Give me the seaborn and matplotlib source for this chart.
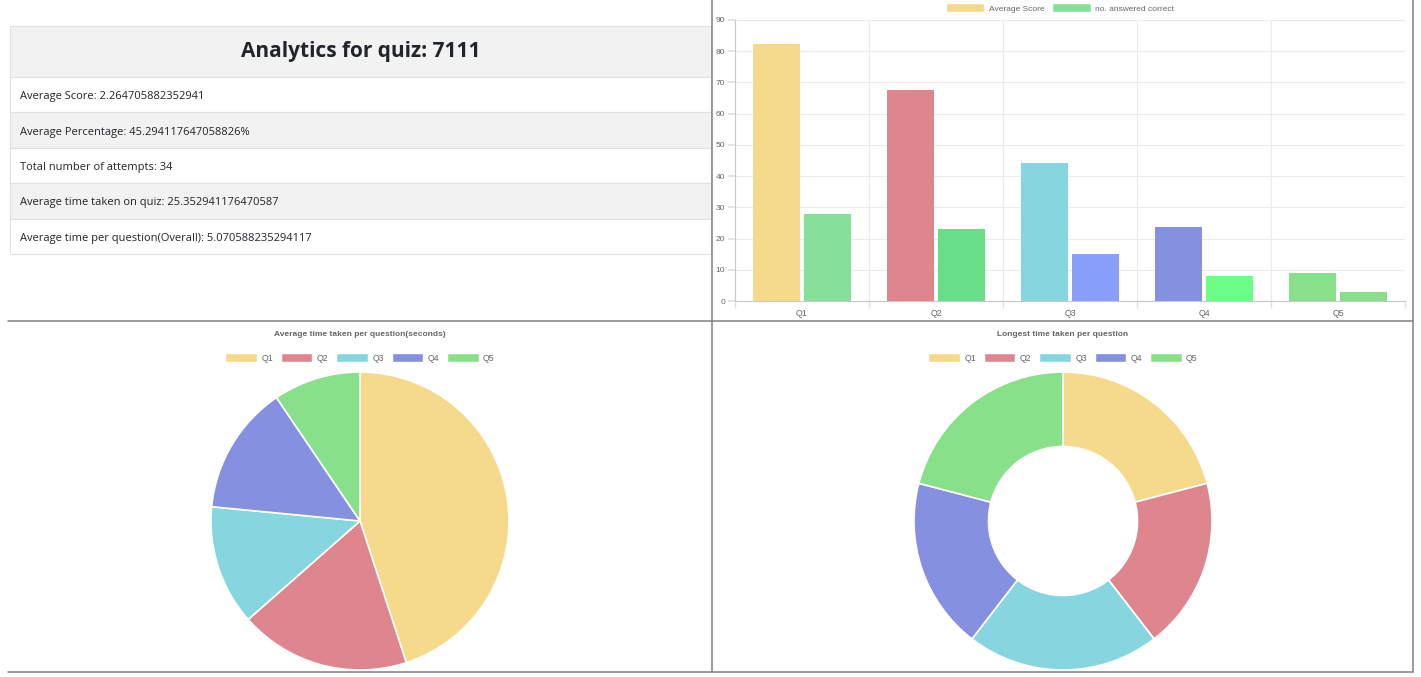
import matplotlib
matplotlib.use("Agg")
import matplotlib.pyplot as plt
from matplotlib.patches import Patch, Rectangle
import pandas as pd
import seaborn as sns

sns.set_theme(style="white")
plt.rcParams["font.family"] = ["Liberation Sans", "DejaVu Sans"]

W, H = 1421, 677

# data
quiz_title = "Analytics for quiz: 7111"
stat_rows = [
    "Average Score: 2.264705882352941",
    "Average Percentage: 45.294117647058826%",
    "Total number of attempts: 34",
    "Average time taken on quiz: 25.352941176470587",
    "Average time per question(Overall): 5.070588235294117",
]
questions = ["Q1", "Q2", "Q3", "Q4", "Q5"]
avg_score = [82.3, 67.6, 44.2, 23.7, 9.0]
answered_correct = [28, 23, 15, 8, 3]
avg_time = [11.4, 4.7, 3.3, 3.55, 2.4]
longest_time = [9, 8, 9, 8, 9]

avg_colors = ["#f6da8b", "#df858e", "#86d6e0", "#8690e0", "#88e08a"]
correct_colors = ["#86e09a", "#68de88", "#88a0fa", "#6cfe86", "#88de8c"]
pie_colors = ["#f6da8b", "#df858e", "#86d6e0", "#8690e0", "#88e08a"]


def px_axes(fig, x0, y0, x1, y1):
    return fig.add_axes([x0 / W, (H - y1) / H, (x1 - x0) / W, (y1 - y0) / H])


fig = plt.figure(figsize=(W / 100, H / 100), dpi=100)
fig.patch.set_facecolor("white")

# background layer: table and panel borders, in pixel coords
bg = fig.add_axes([0, 0, 1, 1], zorder=-1)
bg.set_xlim(0, W)
bg.set_ylim(H, 0)
bg.axis("off")

tx0, tx1 = 10, 711
bg.add_patch(Rectangle((tx0, 26), tx1 - tx0, 51, facecolor="#f2f2f2", edgecolor="#dee2e6", lw=0.8))
bg.text((tx0 + tx1) / 2, 52, quiz_title, ha="center", va="center", fontsize=15, fontweight="bold",
        color="#212529", family=["Open Sans", "DejaVu Sans"])
row_top = 77
row_h = 35.4
for i, label in enumerate(stat_rows):
    y = row_top + i * row_h
    fc = "#f2f2f2" if i % 2 == 1 else "white"
    bg.add_patch(Rectangle((tx0, y), tx1 - tx0, row_h, facecolor=fc, edgecolor="#dee2e6", lw=0.8))
    bg.text(20, y + row_h / 2 + 2, label, ha="left", va="center", fontsize=8.0,
            color="#212529", family=["Open Sans", "DejaVu Sans"])

line_kw = dict(color="#808080", lw=1.1)
bg.plot([712, 712], [0, 672], **line_kw)
bg.plot([1413, 1413], [0, 672], **line_kw)
bg.plot([8, 1413], [321, 321], **line_kw)
bg.plot([8, 1413], [672, 672], **line_kw)

# bar chart
df = pd.DataFrame({
    "question": questions * 2,
    "value": avg_score + answered_correct,
    "series": ["Average Score"] * 5 + ["no. answered correct"] * 5,
})
ax = px_axes(fig, 735, 20, 1405, 301)
sns.barplot(data=df, x="question", y="value", hue="series", width=0.75, gap=0.06,
            legend=False, ax=ax, saturation=1)
for bar, c in zip(ax.containers[0], avg_colors):
    bar.set_facecolor(c)
    bar.set_edgecolor("none")
for bar, c in zip(ax.containers[1], correct_colors):
    bar.set_facecolor(c)
    bar.set_edgecolor("none")
ax.set_xlim(-0.5, 4.5)
ax.set_ylim(0, 90)
ax.set_yticks(range(0, 91, 10))
ax.set_xticks([i - 0.5 for i in range(6)], minor=True)
ax.set_xlabel("")
ax.set_ylabel("")
ax.grid(axis="y", color="#ebebeb", lw=0.8)
ax.grid(axis="x", which="minor", color="#ebebeb", lw=0.8)
ax.set_axisbelow(True)
for s in ["top", "right"]:
    ax.spines[s].set_visible(False)
for s in ["left", "bottom"]:
    ax.spines[s].set_color("#c8c8c8")
    ax.spines[s].set_linewidth(0.8)
ax.tick_params(axis="y", labelsize=6, labelcolor="#666666", length=5, color="#e0e0e0", pad=2, left=True)
ax.tick_params(axis="x", which="major", labelsize=6.3, labelcolor="#666666", length=0, pad=6)
ax.tick_params(axis="x", which="minor", length=5, color="#e0e0e0", bottom=True)
ax.set_facecolor("white")

bar_handles = [Patch(facecolor=avg_colors[0], label="Average Score"),
               Patch(facecolor=correct_colors[0], label="no. answered correct")]
fig.legend(handles=bar_handles, loc="center", bbox_to_anchor=(1060 / W, 1 - 8 / H), ncol=2,
           frameon=False, fontsize=6, handlelength=4.6, handleheight=1.2, handletextpad=0.5,
           columnspacing=1.0, borderpad=0, labelcolor="#666666")

# pie charts
def draw_pie(cx, values, title, donut):
    pax = px_axes(fig, cx - 149, 372, cx + 149, 670)
    wp = dict(edgecolor="white", linewidth=1.2)
    if donut:
        wp["width"] = 0.5
    wedges, _ = pax.pie(values, colors=pie_colors, startangle=90, counterclock=False, wedgeprops=wp)
    pax.set_xlim(-1.0, 1.0)
    pax.set_ylim(-1.0, 1.0)
    fig.text(cx / W, 1 - 335 / H, title, ha="center", va="center", fontsize=6,
             fontweight="bold", color="#666666")
    handles = [Patch(facecolor=c, label=q) for c, q in zip(pie_colors, questions)]
    fig.legend(handles=handles, loc="center", bbox_to_anchor=(cx / W, 1 - 358 / H), ncol=5,
               frameon=False, fontsize=6.3, handlelength=3.6, handleheight=1.1, handletextpad=0.5,
               columnspacing=0.9, borderpad=0, labelcolor="#666666")


draw_pie(360, avg_time, "Average time taken per question(seconds)", donut=False)
draw_pie(1063, longest_time, "Longest time taken per question", donut=True)

fig.savefig("out.png", dpi=100)
